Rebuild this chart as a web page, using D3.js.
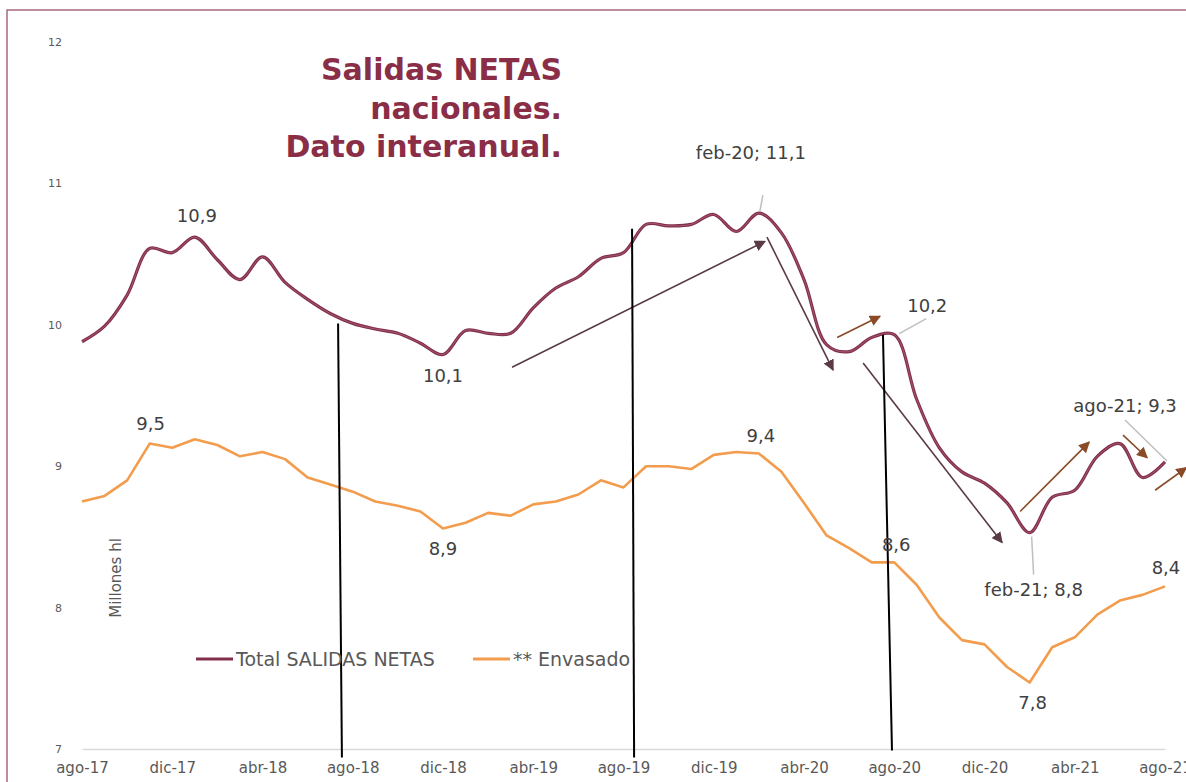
<!DOCTYPE html>
<html>
<head>
<meta charset="utf-8">
<script src="https://cdn.jsdelivr.net/npm/d3@7"></script>
<style>
  body { margin: 0; background: #fff; }
  svg { display: block; font-family: "DejaVu Sans", sans-serif; }
</style>
</head>
<body>
<div id="chart"></div>
<script>
// Meses (ago-17 .. ago-21)
const months = ["ago-17","sep-17","oct-17","nov-17","dic-17","ene-18","feb-18","mar-18","abr-18","may-18","jun-18","jul-18",
  "ago-18","sep-18","oct-18","nov-18","dic-18","ene-19","feb-19","mar-19","abr-19","may-19","jun-19","jul-19",
  "ago-19","sep-19","oct-19","nov-19","dic-19","ene-20","feb-20","mar-20","abr-20","may-20","jun-20","jul-20",
  "ago-20","sep-20","oct-20","nov-20","dic-20","ene-21","feb-21","mar-21","abr-21","may-21","jun-21","jul-21","ago-21"];

// Series (millones hl)
const totalSalidas = [9.88,9.99,10.21,10.54,10.51,10.62,10.46,10.32,10.48,10.30,10.18,10.08,
  10.01,9.97,9.94,9.87,9.79,9.96,9.94,9.94,10.12,10.26,10.34,10.47,
  10.51,10.71,10.70,10.71,10.78,10.66,10.79,10.65,10.32,9.86,9.81,9.91,
  9.93,9.47,9.13,8.96,8.88,8.74,8.53,8.78,8.83,9.07,9.16,8.92,9.03];
const envasado = [8.75,8.79,8.90,9.16,9.13,9.19,9.15,9.07,9.10,9.05,8.92,8.87,
  8.82,8.75,8.72,8.68,8.56,8.60,8.67,8.65,8.73,8.75,8.80,8.90,
  8.85,9.00,9.00,8.98,9.08,9.10,9.09,8.96,8.74,8.51,8.42,8.32,8.32,
  8.16,7.93,7.77,7.74,7.58,7.47,7.72,7.79,7.95,8.05,8.09,8.15];

const xTickLabels = ["ago-17","dic-17","abr-18","ago-18","dic-18","abr-19","ago-19","dic-19","abr-20","ago-20","dic-20","abr-21","ago-21"];
const yTicks = [7, 8, 9, 10, 11, 12];

// Etiquetas de datos
const totalLabelMonths = ["ene-18","dic-18","feb-20","ago-20","feb-21","ago-21"];
const totalLabelTexts = ["10,9","10,1","feb-20; 11,1","10,2","feb-21; 8,8","ago-21; 9,3"];
const envLabelMonths = ["nov-17","dic-18","feb-20","ago-20","feb-21","ago-21"];
const envLabelTexts = ["9,5","8,9","9,4","8,6","7,8","8,4"];

const width = 1186, height = 782;
const svg = d3.select("#chart").append("svg")
  .attr("width", width).attr("height", height);

// marco
svg.append("rect")
  .attr("x", 7).attr("y", 10).attr("width", 1300).attr("height", 900)
  .attr("fill", "none").attr("stroke", "#a86a7c").attr("stroke-width", 1.5);

const x = d3.scalePoint().domain(months).range([82, 1165]);
const y = d3.scaleLinear().domain([7, 12]).range([749, 42]);
// posición fraccionaria en meses (para flechas y líneas a mano)
const xi = i => x(months[0]) + i * x.step();

// Eje Y (solo números)
svg.append("g")
  .attr("transform", "translate(66,0)")
  .call(d3.axisLeft(y).tickValues(yTicks).tickFormat(d3.format("d")).tickSize(0).tickPadding(4))
  .call(g => g.select(".domain").remove())
  .selectAll("text")
  .style("font-family", "DejaVu Sans")
  .style("font-size", "11px")
  .attr("fill", "#595959");

// Eje X
svg.append("g")
  .attr("transform", `translate(0,${y(7)})`)
  .call(d3.axisBottom(x).tickValues(xTickLabels).tickSize(0).tickSizeOuter(0).tickPadding(13))
  .call(g => g.select(".domain").attr("stroke", "#d9d9d9").attr("stroke-width", 1.5))
  .selectAll("text")
  .style("font-family", "DejaVu Sans")
  .style("font-size", "15px")
  .attr("fill", "#595959");

// Título eje
svg.append("text")
  .attr("transform", "translate(121,578) rotate(-90)")
  .attr("text-anchor", "middle")
  .style("font-size", "15px")
  .attr("fill", "#595959")
  .text("Millones hl");

// Título
const title = svg.append("text")
  .attr("text-anchor", "end")
  .style("font-size", "30px")
  .style("font-weight", "bold")
  .attr("fill", "#8a2d47");
["Salidas NETAS", "nacionales.", "Dato interanual."].forEach((t, k) => {
  title.append("tspan").attr("x", 562).attr("y", 80 + k * 38.5).text(t);
});

// Líneas
const lineTotal = d3.line()
  .x((d, i) => x(months[i]))
  .y(d => y(d))
  .curve(d3.curveCatmullRom.alpha(0.5));
const lineEnv = d3.line()
  .x((d, i) => x(months[i]))
  .y(d => y(d));

svg.append("path").datum(envasado)
  .attr("d", lineEnv)
  .attr("fill", "none")
  .attr("stroke", "#f39c4d")
  .attr("stroke-width", 2.6)
  .attr("stroke-linejoin", "round");

svg.append("path").datum(totalSalidas)
  .attr("d", lineTotal)
  .attr("fill", "none")
  .attr("stroke", "#82304a")
  .attr("stroke-width", 3.2);
svg.append("path").datum(totalSalidas)
  .attr("d", lineTotal)
  .attr("fill", "none")
  .attr("stroke", "#a65670")
  .attr("stroke-width", 1);

// Flechas (en coordenadas de mes / valor)
const defs = svg.append("defs");
[["dark", "#5a3b44"], ["brown", "#8a4a28"]].forEach(([id, c]) => {
  defs.append("marker")
    .attr("id", "arrow-" + id)
    .attr("viewBox", "0 0 10 10")
    .attr("refX", 9).attr("refY", 5)
    .attr("markerWidth", 7).attr("markerHeight", 7)
    .attr("orient", "auto")
    .append("path").attr("d", "M0,0 L10,5 L0,10 z").attr("fill", c);
});
const arrows = [
  { from: [19.06, 9.70], to: [30.27, 10.59], kind: "dark" },
  { from: [30.36, 10.62], to: [33.29, 9.68], kind: "dark" },
  { from: [33.47, 9.91], to: [35.37, 10.06], kind: "brown" },
  { from: [34.62, 9.73], to: [40.78, 8.46], kind: "dark" },
  { from: [41.58, 8.68], to: [44.64, 9.17], kind: "brown" },
  { from: [46.14, 9.22], to: [47.21, 9.06], kind: "brown" },
  { from: [47.56, 8.83], to: [48.95, 8.99], kind: "brown" }
];
svg.selectAll(".arrow")
  .data(arrows)
  .enter()
  .append("line")
  .attr("class", "arrow")
  .attr("x1", d => xi(d.from[0])).attr("y1", d => y(d.from[1]))
  .attr("x2", d => xi(d.to[0])).attr("y2", d => y(d.to[1]))
  .attr("stroke", d => d.kind === "dark" ? "#5a3b44" : "#8a4a28")
  .attr("stroke-width", 1.6)
  .attr("marker-end", d => `url(#arrow-${d.kind})`);

// Líneas verticales negras
const vlines = [
  { from: [11.35, 10.01], to: [11.52, 6.94] },
  { from: [24.38, 10.68], to: [24.47, 6.94] },
  { from: [35.50, 9.93], to: [35.90, 6.99] }
];
svg.selectAll(".vline")
  .data(vlines)
  .enter()
  .append("line")
  .attr("class", "vline")
  .attr("x1", d => xi(d.from[0])).attr("y1", d => y(d.from[1]))
  .attr("x2", d => xi(d.to[0])).attr("y2", d => y(d.to[1]))
  .attr("stroke", "#000")
  .attr("stroke-width", 2);

// Etiquetas de datos
const totalOffsets = [[2, -15], [0, 28], [-8, -54], [33, -23], [4, 63], [-40, -50]];
const envOffsets = [[1, -14], [0, 27], [2, -11], [2, -11], [3, 26], [1, -12]];
// líneas guía (desde el punto hacia la etiqueta)
const leaders = [
  { m: "feb-20", v: totalSalidas, p1: [1, -2], p2: [4, -18] },
  { m: "ago-20", v: totalSalidas, p1: [5, -1], p2: [32, -16] },
  { m: "feb-21", v: totalSalidas, p1: [2, 4], p2: [4, 42] },
  { m: "ago-21", v: totalSalidas, p1: [2, -1], p2: [-40, -42] }
];
leaders.forEach(d => {
  const i = months.indexOf(d.m);
  const px = x(d.m), py = y(d.v[i]);
  svg.append("line")
    .attr("x1", px + d.p1[0]).attr("y1", py + d.p1[1])
    .attr("x2", px + d.p2[0]).attr("y2", py + d.p2[1])
    .attr("stroke", "#bfbfbf").attr("stroke-width", 1.5);
});

function addLabels(ms, texts, offsets, series) {
  ms.forEach((m, k) => {
    const i = months.indexOf(m);
    svg.append("text")
      .attr("x", x(m) + offsets[k][0])
      .attr("y", y(series[i]) + offsets[k][1])
      .attr("text-anchor", "middle")
      .style("font-size", "18px")
      .attr("fill", "#404040")
      .text(texts[k]);
  });
}
addLabels(totalLabelMonths, totalLabelTexts, totalOffsets, totalSalidas);
addLabels(envLabelMonths, envLabelTexts, envOffsets, envasado);

// Leyenda
const legend = [
  { name: "Total SALIDAS NETAS", color: "#82304a", x: 196 },
  { name: "** Envasado", color: "#f39c4d", x: 473 }
];
legend.forEach(d => {
  svg.append("line")
    .attr("x1", d.x).attr("x2", d.x + 37)
    .attr("y1", 659).attr("y2", 659)
    .attr("stroke", d.color).attr("stroke-width", 3);
  svg.append("text")
    .attr("x", d.x + 40).attr("y", 666)
    .style("font-size", "19px")
    .attr("fill", "#595959")
    .text(d.name);
});
</script>
</body>
</html>
